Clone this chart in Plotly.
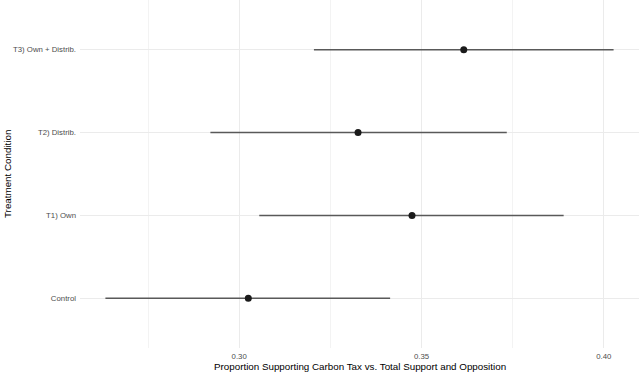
import plotly.graph_objects as go

conditions = ["Control", "T1) Own", "T2) Distrib.", "T3) Own + Distrib."]
estimate = [0.3025, 0.3474, 0.3326, 0.3616]
lower = [0.2633, 0.3055, 0.2921, 0.3205]
upper = [0.3414, 0.3890, 0.3734, 0.4027]

err_plus = [u - e for u, e in zip(upper, estimate)]
err_minus = [e - l for e, l in zip(estimate, lower)]

fig = go.Figure()
fig.add_trace(go.Scatter(
    x=estimate, y=conditions, mode="markers",
    marker=dict(color="#1a1a1a", size=7),
    error_x=dict(type="data", symmetric=False, array=err_plus, arrayminus=err_minus,
                 color="#595959", thickness=1.6, width=0),
    showlegend=False,
))

span = max(upper) - min(lower)
fig.update_layout(
    width=640, height=372,
    margin=dict(l=80, r=1, t=0, b=24, autoexpand=False),
    paper_bgcolor="white", plot_bgcolor="white",
    font=dict(family="Liberation Sans, Arial, sans-serif", color="#4d4d4d", size=7.8),
    xaxis=dict(
        range=[min(lower) - 0.05 * span, max(upper) + 0.05 * span],
        tickvals=[0.30, 0.35, 0.40], ticktext=["0.30", "0.35", "0.40"],
        showgrid=True, gridcolor="#ebebeb", gridwidth=1,
        minor=dict(tickvals=[0.275, 0.325, 0.375], showgrid=True, gridcolor="#f3f3f3", gridwidth=0.6),
        zeroline=False, showline=False, ticks="", ticklabelstandoff=2,
        automargin=False,
    ),
    yaxis=dict(
        type="category", categoryorder="array", categoryarray=conditions,
        range=[-0.6, 3.6],
        showgrid=True, gridcolor="#ebebeb", gridwidth=1,
        zeroline=False, showline=False, ticks="", ticklabelstandoff=3,
        automargin=False,
    ),
    annotations=[
        dict(text="Proportion Supporting Carbon Tax vs. Total Support and Opposition",
             xref="paper", yref="paper", x=0.5, y=0, yshift=-18, xanchor="center", yanchor="middle",
             showarrow=False, font=dict(size=9.8, color="black")),
        dict(text="Treatment Condition", xref="paper", yref="paper", x=0, y=0.5,
             xshift=-73, xanchor="center", yanchor="middle", textangle=-90,
             showarrow=False, font=dict(size=9.8, color="black")),
    ],
)

fig.write_html("out.html", config={"displayModeBar": False},
               post_script="document.body.style.margin='0';")
